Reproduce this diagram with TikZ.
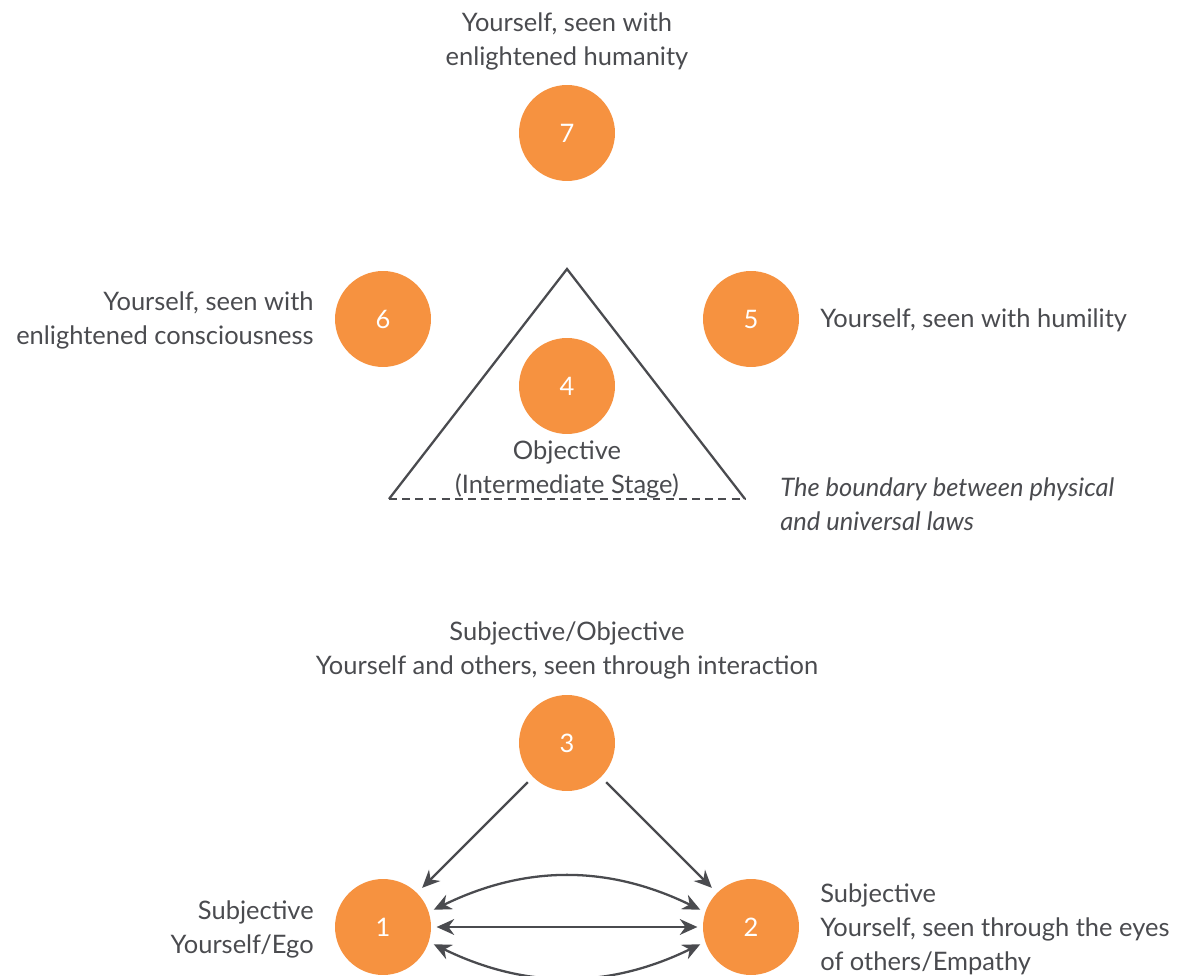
\documentclass[tikz,border=0pt]{standalone}
\usepackage{fontspec}
\setmainfont{Lato}
\usetikzlibrary{arrows.meta,positioning}
\definecolor{stageorange}{HTML}{F69240}
\definecolor{inkgray}{HTML}{4A4B4F}

\begin{document}
\begin{tikzpicture}[x=0.02cm,y=-0.02cm]
    \tikzstyle{every node} = [font=\fontsize{14.5}{19.3}\selectfont, text=inkgray]
    \tikzstyle{stage} = [circle, fill=stageorange, minimum size=1.92cm, inner sep=0pt, text=white]
    \tikzstyle{caption} = [inner sep=0pt]
    \tikzstyle{link} = [-{Stealth[length=10pt,width=9pt]}, draw=inkgray, line width=1.3pt]
    \tikzstyle{twoway} = [{Stealth[length=10pt,width=9pt]}-{Stealth[length=10pt,width=9pt]}, draw=inkgray, line width=1.3pt]
    \useasboundingbox (0,0) rectangle (1181,976);

    % place nodes
    \node[stage](stage7) at (567,133){7};
    \node[stage](stage6) at (383,319){6};
    \node[stage](stage5) at (751,319){5};
    \node[stage](stage4) at (567,386){4};
    \node[stage](stage3) at (567,743){3};
    \node[stage](stage1) at (383,927){1};
    \node[stage](stage2) at (751,927){2};

    % labels
    \node[caption,align=center] (lab7) at (567,41) {Yourself, seen with\\enlightened humanity};
    \node[caption,align=right,anchor=east] (lab6) at (314,320) {Yourself, seen with\\enlightened consciousness};
    \node[caption,anchor=west] (lab5) at (820,320) {Yourself, seen with humility};
    \node[caption,align=center] (lab4) at (567,469) {Objective\\(Intermediate Stage)};
    \node[caption,align=left,anchor=west,font=\fontsize{14.5}{19.3}\selectfont\itshape] (boundary) at (780,504) {The boundary between physical\\and universal laws};
    \node[caption,align=center] (lab3) at (567,650) {Subjective/Objective\\Yourself and others, seen through interaction};
    \node[caption,align=right,anchor=east] (lab1) at (314,929) {Subjective\\Yourself/Ego};
    \node[caption,align=left,anchor=west] (lab2) at (820,929) {Subjective\\Yourself, seen through the eyes\\of others/Empathy};

    % triangle
    \coordinate (apex) at (567,269);
    \coordinate (baseL) at (389,499);
    \coordinate (baseR) at (745,499);
    \draw[inkgray,line width=1.3pt,line join=miter] (baseL)--(apex)--(baseR);
    \draw[inkgray,line width=1.3pt,dash pattern=on 4.5pt off 3pt] (baseL)--(baseR);

    % Connections
    \draw[link,shorten <=4pt,shorten >=4pt] (stage3.225)--(stage1.45);
    \draw[link,shorten <=4pt,shorten >=4pt] (stage3.315)--(stage2.135);
    \draw[twoway,shorten <=3pt,shorten >=3pt] (stage1.east)--(stage2.west);
    \draw[twoway,shorten <=3pt,shorten >=3pt] (stage1.18) to[bend left=26] (stage2.162);
    \draw[twoway,shorten <=3pt,shorten >=3pt] (stage1.-18) to[bend right=26] (stage2.198);
  \end{tikzpicture}
\end{document}
